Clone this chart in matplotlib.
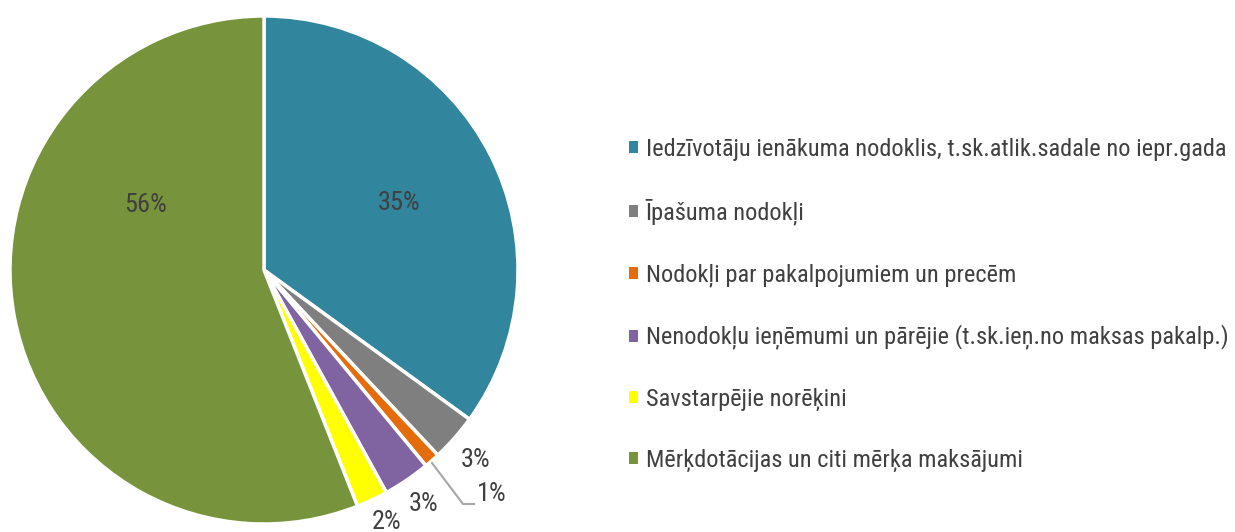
import matplotlib
matplotlib.use("Agg")
import matplotlib.pyplot as plt
from matplotlib.patches import Patch

plt.rcParams['font.family'] = ['Roboto Condensed', 'Liberation Sans', 'DejaVu Sans']

# Data
labels = [
    "Iedzīvotāju ienākuma nodoklis, t.sk.atlik.sadale no iepr.gada",
    "Īpašuma nodokļi",
    "Nodokļi par pakalpojumiem un precēm",
    "Nenodokļu ieņēmumi un pārējie (t.sk.ieņ.no maksas pakalp.)",
    "Savstarpējie norēķini",
    "Mērķdotācijas un citi mērķa maksājumi",
]
shares = [35, 3, 1, 3, 2, 56]
colors = ["#31859C", "#7F7F7F", "#E46C0A", "#8064A2", "#FFFF00", "#77933C"]

W, H = 1235, 532
fig = plt.figure(figsize=(W / 100, H / 100), dpi=100)
ax = fig.add_axes([0, 0, 1, 1])

cx, cy, r = 264, 262, 254
ax.pie(shares, colors=colors, startangle=90, counterclock=False,
       center=(cx, cy), radius=r, frame=True,
       wedgeprops=dict(edgecolor='white', linewidth=2.5))
ax.set_xlim(0, W)
ax.set_ylim(0, H)
ax.set_aspect('equal')
ax.axis('off')

# percentage labels (placed by hand like the original)
tc = "#404040"
fs = 19
ax.text(399, 532 - 203, f"{shares[0]}%", ha='center', va='center', fontsize=fs, color=tc)
ax.text(146, 532 - 205, f"{shares[5]}%", ha='center', va='center', fontsize=fs, color=tc)
ax.text(476, 532 - 460, f"{shares[1]}%", ha='center', va='center', fontsize=fs, color=tc)
ax.text(492, 532 - 494, f"{shares[2]}%", ha='center', va='center', fontsize=fs, color=tc)
ax.text(424, 532 - 504, f"{shares[3]}%", ha='center', va='center', fontsize=fs, color=tc)
ax.text(387, 532 - 522, f"{shares[4]}%", ha='center', va='center', fontsize=fs, color=tc)
ax.plot([432, 463, 474], [532 - 463, 532 - 504, 532 - 504], color="#A6A6A6", lw=1.5)

handles = [Patch(facecolor=c, edgecolor='none') for c in colors]
fig.legend(handles, labels, loc='center left', bbox_to_anchor=(607 / W, 1 - 305 / H),
           frameon=False, fontsize=17.6, labelcolor=tc, handlelength=0.38,
           handleheight=0.38, handletextpad=0.3, labelspacing=1.55)

fig.savefig("out.png", dpi=100)
